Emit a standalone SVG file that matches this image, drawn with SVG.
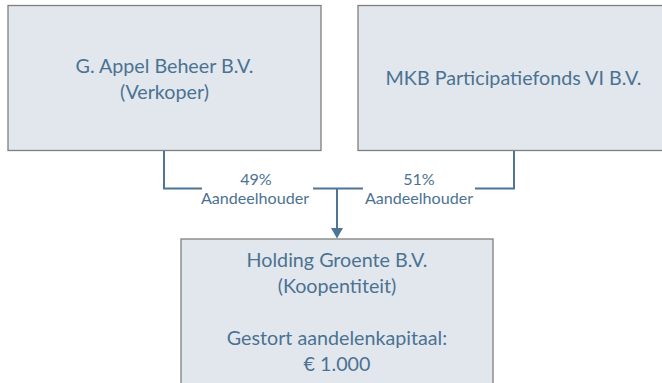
<svg xmlns="http://www.w3.org/2000/svg" width="662" height="383" viewBox="0 0 662 383">
<style>
.box{fill:#E1E7ED;stroke:#7F7F7F;stroke-width:1.3}
.t{font-family:Lato,"Liberation Sans",sans-serif;fill:#4C7292;text-anchor:middle}
.big{font-size:19.7px}
.lbl{font-size:16.1px}
.c{fill:none;stroke:#4E7595;stroke-width:2}
</style>
<g id="node-appel">
<rect class="box" x="8" y="5.5" width="313" height="145"/>
<text class="t big" x="164.5" y="72.5">G. Appel Beheer B.V.</text>
<text class="t big" x="164.5" y="98.5">(Verkoper)</text>
</g>
<g id="node-mkb">
<rect class="box" x="358" y="5.5" width="313" height="145"/>
<text class="t big" x="513.5" y="85">MKB Participatiefonds VI B.V.</text>
</g>
<g id="node-holding">
<rect class="box" x="181" y="239" width="312" height="160"/>
<text class="t big" x="337" y="266.5">Holding Groente B.V.</text>
<text class="t big" x="337" y="292.5">(Koopentiteit)</text>
<text class="t big" x="337" y="344.5">Gestort aandelenkapitaal:</text>
<text class="t big" x="337" y="370.5">€ 1.000</text>
</g>
<g id="connectors">
<polyline class="c" points="164,151 164,188.5 202,188.5"/>
<polyline class="c" points="514,151 514,188.5 475,188.5"/>
<line class="c" x1="313" y1="188.5" x2="363" y2="188.5"/>
<line class="c" x1="337" y1="188.5" x2="337" y2="228"/>
<path d="M331,228 L343,228 L337,238.5 Z" fill="#4E7595"/>
<text class="t lbl" x="256" y="185">49%</text>
<text class="t lbl" x="255" y="204">Aandeelhouder</text>
<text class="t lbl" x="419" y="185">51%</text>
<text class="t lbl" x="419" y="204">Aandeelhouder</text>
</g>
</svg>
